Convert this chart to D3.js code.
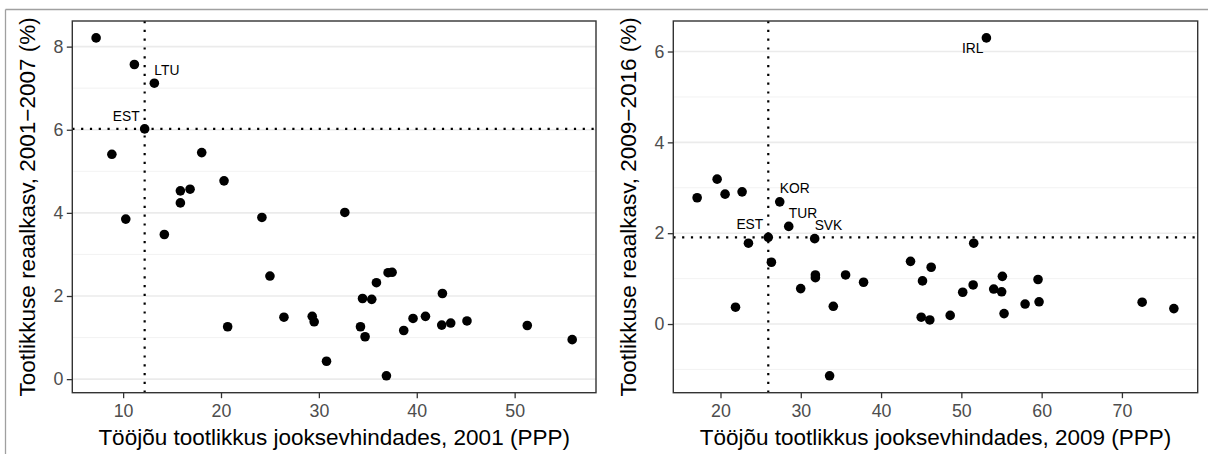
<!DOCTYPE html>
<html>
<head>
<meta charset="utf-8">
<script src="https://cdn.jsdelivr.net/npm/d3@7"></script>
<style>
  html, body { margin: 0; padding: 0; background: #fff; }
  svg { display: block; font-family: "Liberation Sans", Arial, Helvetica, sans-serif; }
</style>
</head>
<body>
<svg id="chart" width="1208" height="454"></svg>
<script>
// ---------- DATA ----------
// Left panel: labour productivity 2001 (PPP) vs real productivity growth 2001-2007 (%)
const leftX = [7.24, 11.15, 13.19, 12.2, 8.85, 18.03, 20.31, 15.85, 16.84, 15.85, 24.18, 10.27,
  32.65, 14.21, 25.0, 20.68, 26.43, 29.32, 29.52, 30.78, 34.25, 34.46, 34.72, 35.4, 35.88,
  37.07, 37.48, 36.9, 38.67, 39.62, 40.89, 42.62, 42.55, 43.47, 45.13, 51.29, 55.88];
const leftY = [8.21, 7.57, 7.12, 6.02, 5.41, 5.45, 4.77, 4.53, 4.57, 4.24, 3.89, 3.85,
  4.01, 3.48, 2.48, 1.26, 1.49, 1.51, 1.38, 0.43, 1.26, 1.94, 1.02, 1.92, 2.32,
  2.56, 2.57, 0.08, 1.17, 1.46, 1.51, 2.06, 1.30, 1.35, 1.40, 1.29, 0.95];
const leftLabel = ["", "", "LTU", "EST", "", "", "", "", "", "", "", "",
  "", "", "", "", "", "", "", "", "", "", "", "", "",
  "", "", "", "", "", "", "", "", "", "", "", ""];

// Right panel: labour productivity 2009 (PPP) vs real productivity growth 2009-2016 (%)
const rightX = [17.09, 19.58, 20.57, 22.69, 27.38, 28.5, 53.12, 23.48, 25.95, 31.73, 26.34, 21.87,
  29.99, 31.82, 31.82, 35.58, 37.82, 34.05, 33.59, 43.67, 51.54, 46.24, 45.16, 55.11, 59.55,
  51.47, 50.17, 54.03, 55.02, 57.94, 59.68, 72.52, 76.47, 45.0, 46.07, 48.61, 55.32];
const rightY = [2.78, 3.19, 2.86, 2.91, 2.69, 2.15, 6.30, 1.78, 1.91, 1.88, 1.36, 0.37,
  0.78, 1.08, 1.02, 1.08, 0.92, 0.39, -1.14, 1.38, 1.78, 1.25, 0.95, 1.05, 0.98,
  0.86, 0.70, 0.77, 0.71, 0.44, 0.49, 0.48, 0.34, 0.15, 0.09, 0.19, 0.23];
const rightLabel = ["", "", "", "", "KOR", "TUR", "IRL", "", "EST", "SVK", "", "",
  "", "", "", "", "", "", "", "", "", "", "", "", "",
  "", "", "", "", "", "", "", "", "", "", "", ""];

const leftXTicks = [10, 20, 30, 40, 50];
const leftYTicks = [0, 2, 4, 6, 8];
const rightXTicks = [20, 30, 40, 50, 60, 70];
const rightYTicks = [0, 2, 4, 6];

const leftXTitle = "Tööjõu tootlikkus jooksevhindades, 2001 (PPP)";
const leftYTitle = "Tootlikkuse reaalkasv, 2001−2007 (%)";
const rightXTitle = "Tööjõu tootlikkus jooksevhindades, 2009 (PPP)";
const rightYTitle = "Tootlikkuse reaalkasv, 2009−2016 (%)";

// ---------- DRAWING ----------
const svg = d3.select("#chart");

// outer page frame (partially visible)
svg.append("line").attr("x1", 5.5).attr("x2", 1208).attr("y1", 9.5).attr("y2", 9.5)
  .attr("stroke", "#a0a0a0").attr("stroke-width", 1.3);
svg.append("line").attr("x1", 5.5).attr("x2", 5.5).attr("y1", 9.5).attr("y2", 454)
  .attr("stroke", "#a0a0a0").attr("stroke-width", 1.3);

// label placement (code-side styling)
const placement = {
  ne: { anchor: "start", dx: 0, dy: -8.5 },
  nw: { anchor: "end", dx: -5, dy: -8 },
  sw: { anchor: "end", dx: -3, dy: 15.5 }
};
const labelSide = { LTU: "ne", EST: "nw", KOR: "ne", TUR: "ne", SVK: "ne", IRL: "sw" };

function expand(ext) {
  const s = ext[1] - ext[0];
  return [ext[0] - 0.05 * s, ext[1] + 0.05 * s];
}

function panel(opts) {
  const { left, right, top, bottom, xs, ys, labels, xTicks, yTicks, xTitle, yTitle } = opts;
  const g = svg.append("g");
  const x = d3.scaleLinear().domain(expand(d3.extent(xs))).range([left, right]);
  const y = d3.scaleLinear().domain(expand(d3.extent(ys))).range([bottom, top]);

  // minor gridlines (horizontal only)
  const yd = y.domain();
  const minor = [];
  for (let v = Math.ceil(yd[0]) ; v <= yd[1]; v++) if (Math.abs(v % 2) === 1) minor.push(v);
  g.selectAll(".minor").data(minor).enter().append("line")
    .attr("x1", left).attr("x2", right)
    .attr("y1", d => y(d)).attr("y2", d => y(d))
    .attr("stroke", "#f0f0f0").attr("stroke-width", 0.9);
  g.selectAll(".major").data(yTicks).enter().append("line")
    .attr("x1", left).attr("x2", right)
    .attr("y1", d => y(d)).attr("y2", d => y(d))
    .attr("stroke", "#ebebeb").attr("stroke-width", 1.6);

  // reference lines through EST
  const iE = labels.indexOf("EST");
  const ex = xs[iE], ey = ys[iE];
  g.append("line").attr("x1", x(ex)).attr("x2", x(ex)).attr("y1", top).attr("y2", bottom)
    .attr("stroke", "#000").attr("stroke-width", 2.2).attr("stroke-dasharray", "2.2,6.6");
  g.append("line").attr("x1", left).attr("x2", right).attr("y1", y(ey)).attr("y2", y(ey))
    .attr("stroke", "#000").attr("stroke-width", 2.2).attr("stroke-dasharray", "2.2,6.6");

  // points
  const idx = d3.range(xs.length);
  g.selectAll(".pt").data(idx).enter().append("circle")
    .attr("cx", i => x(xs[i])).attr("cy", i => y(ys[i])).attr("r", 4.8)
    .attr("fill", "#000");

  // labels
  g.selectAll(".lbl").data(idx.filter(i => labels[i])).enter().append("text")
    .attr("x", i => x(xs[i]) + placement[labelSide[labels[i]]].dx)
    .attr("y", i => y(ys[i]) + placement[labelSide[labels[i]]].dy)
    .attr("text-anchor", i => placement[labelSide[labels[i]]].anchor)
    .attr("font-size", 13.8).attr("fill", "#000")
    .text(i => labels[i]);

  // panel border
  g.append("rect").attr("x", left).attr("y", top)
    .attr("width", right - left).attr("height", bottom - top)
    .attr("fill", "none").attr("stroke", "#333").attr("stroke-width", 1.4);

  // axes
  const xAxis = d3.axisBottom(x).tickValues(xTicks).tickSize(5.5).tickPadding(5).tickFormat(d3.format("d"));
  const ax = g.append("g").attr("transform", `translate(0,${bottom})`).call(xAxis);
  const yAxis = d3.axisLeft(y).tickValues(yTicks).tickSize(5.5).tickPadding(3.5).tickFormat(d3.format("d"));
  const ay = g.append("g").attr("transform", `translate(${left},0)`).call(yAxis);
  [ax, ay].forEach(a => {
    a.select(".domain").remove();
    a.selectAll(".tick line").attr("stroke", "#333").attr("stroke-width", 1.3);
    a.selectAll(".tick text").attr("fill", "#4d4d4d").attr("font-size", 17.8)
      .attr("font-family", "'Liberation Sans', Arial, sans-serif");
  });
  ax.selectAll(".tick text").attr("dy", "0.76em");

  // titles
  g.append("text").attr("x", (left + right) / 2).attr("y", 445)
    .attr("text-anchor", "middle").attr("font-size", 22.5).attr("fill", "#000").text(xTitle);
  g.append("text")
    .attr("transform", `translate(${left - 37},${(top + bottom) / 2}) rotate(-90)`)
    .attr("text-anchor", "middle").attr("font-size", 22.5).attr("fill", "#000").text(yTitle);
}

panel({ left: 72.3, right: 596, top: 21, bottom: 392.7, xs: leftX, ys: leftY, labels: leftLabel,
  xTicks: leftXTicks, yTicks: leftYTicks, xTitle: leftXTitle, yTitle: leftYTitle });
panel({ left: 673.3, right: 1197.7, top: 21, bottom: 392.7, xs: rightX, ys: rightY, labels: rightLabel,
  xTicks: rightXTicks, yTicks: rightYTicks, xTitle: rightXTitle, yTitle: rightYTitle });
</script>
</body>
</html>
